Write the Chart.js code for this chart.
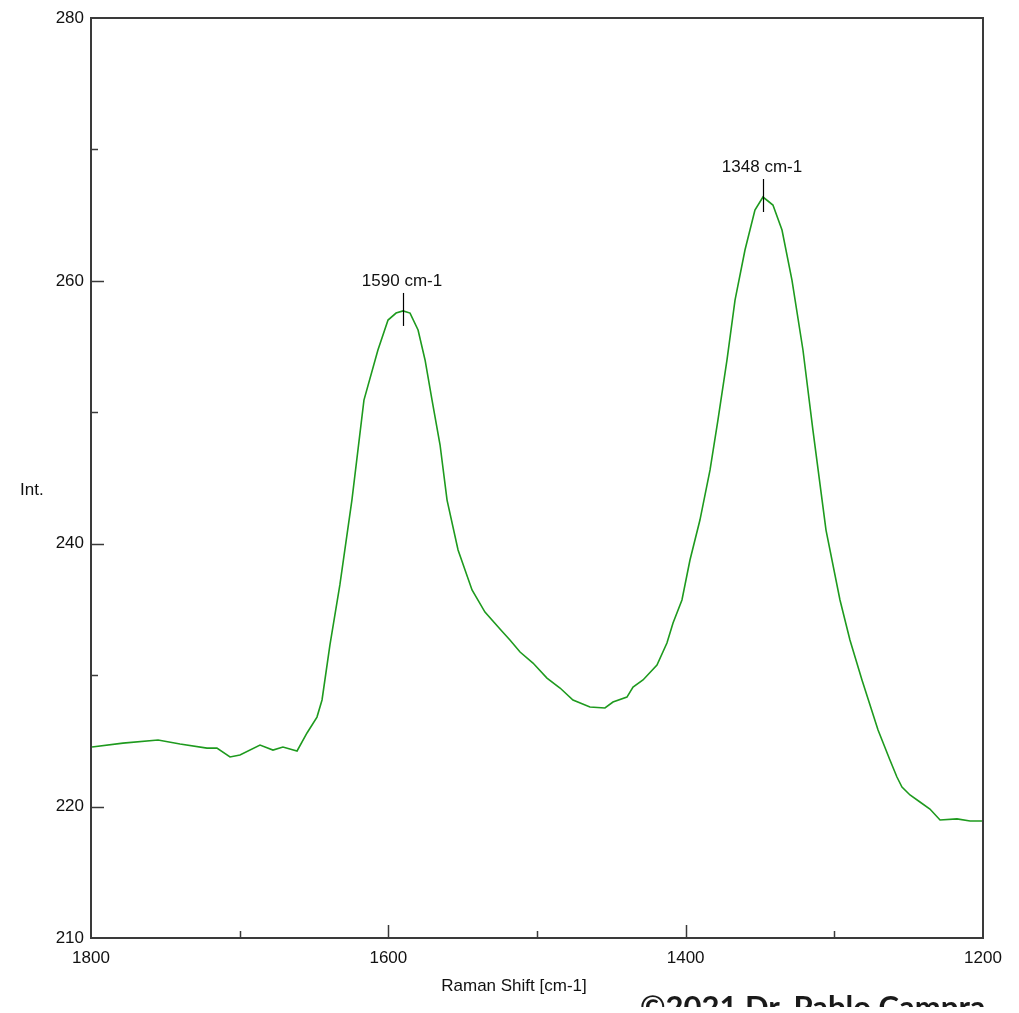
<!DOCTYPE html>
<html lang="en">
<head>
    <meta charset="UTF-8">
    <title>Raman Spectrum</title>
    <script src="https://cdn.jsdelivr.net/npm/chart.js"></script>
    <style>
        body { margin: 0; background: #fff; }
        #wrap { position: relative; width: 1019px; height: 1013px; }
        #copy {
            position: absolute; left: 640px; top: 991px; height: 16px; overflow: hidden;
            font: bold 31px Lato, "Open Sans", sans-serif; line-height: 31px; color: #1a1a1a;
            white-space: nowrap;
        }
    </style>
</head>
<body>
<div id="wrap">
    <canvas id="ramanChart" width="1019" height="1013"></canvas>
    <div id="copy">©2021 Dr. Pablo Campra</div>
</div>
<script>
    // spectrum (Raman shift in cm-1, intensity)
    const shiftValues = [
        1799.3, 1778.5, 1754.9, 1740.1, 1722.0, 1715.3, 1706.5, 1699.8, 1686.3, 1677.6,
        1670.9, 1661.4, 1654.7, 1648.0, 1644.6, 1639.3, 1632.6, 1624.5, 1616.4, 1607.0,
        1600.2, 1594.8, 1590.1, 1585.4, 1580.0, 1575.3, 1570.6, 1565.2, 1560.5, 1553.1,
        1543.7, 1535.0, 1524.9, 1518.2, 1511.4, 1502.7, 1493.3, 1484.5, 1475.8, 1464.4,
        1454.3, 1448.9, 1439.5, 1435.4, 1428.7, 1419.3, 1412.6, 1408.5, 1402.5, 1397.1,
        1390.4, 1383.6, 1378.3, 1372.2, 1366.8, 1360.1, 1353.4, 1348.0, 1341.3, 1335.2,
        1328.5, 1321.1, 1314.4, 1305.6, 1296.2, 1289.5, 1281.4, 1270.6, 1262.6, 1257.9,
        1254.5, 1249.1, 1242.4, 1235.7, 1228.9, 1217.5, 1208.7, 1200.7
    ];
    const intensityValues = [
        224.53, 224.83, 225.06, 224.76, 224.45, 224.45, 223.77, 223.92, 224.68, 224.30,
        224.53, 224.23, 225.60, 226.81, 228.11, 232.29, 236.86, 243.32, 250.93, 254.74,
        257.02, 257.55, 257.71, 257.55, 256.26, 253.98, 250.93, 247.51, 243.32, 239.52,
        236.48, 234.80, 233.51, 232.67, 231.76, 230.92, 229.78, 229.02, 228.11, 227.57,
        227.50, 227.95, 228.33, 229.10, 229.63, 230.77, 232.44, 233.97, 235.72, 238.76,
        241.80, 245.61, 249.41, 253.98, 258.54, 262.35, 265.39, 266.38, 265.77, 263.87,
        260.06, 254.74, 248.65, 241.04, 235.72, 232.67, 229.63, 225.82, 223.54, 222.25,
        221.49, 220.88, 220.35, 219.81, 218.98, 219.06, 218.90, 218.90
    ];

    // peak markers
    const peakShifts = [1590, 1348];
    const peakIntensities = [257.71, 266.38];
    const peakLabels = ['1590 cm-1', '1348 cm-1'];

    // axis labels that are printed
    const xTickLabels = [1800, 1600, 1400, 1200];
    const yTickLabels = [210, 220, 240, 260, 280];

    const axisColor = '#3a3a3a';
    const fontFamily = '"Liberation Sans", Arial, sans-serif';

    // frame, inner ticks, peak markers and axis titles
    const framePlugin = {
        id: 'frame',
        afterDatasetsDraw(chart) {
            const { ctx, chartArea: a, scales } = chart;
            const xs = scales.x, ys = scales.y;
            ctx.save();
            ctx.strokeStyle = axisColor;
            ctx.lineWidth = 2;
            ctx.strokeRect(a.left, a.top, a.right - a.left, a.bottom - a.top);

            ctx.lineWidth = 1.5;
            xs.ticks.forEach(t => {
                if (t.value === xs.min || t.value === xs.max) return;
                const px = Math.round(xs.getPixelForValue(t.value)) + 0.5;
                const len = xTickLabels.includes(t.value) ? 13 : 7;
                ctx.beginPath();
                ctx.moveTo(px, a.bottom);
                ctx.lineTo(px, a.bottom - len);
                ctx.stroke();
            });
            ys.ticks.forEach(t => {
                if (t.value === ys.min || t.value === ys.max) return;
                const py = Math.round(ys.getPixelForValue(t.value)) + 0.5;
                const len = yTickLabels.includes(t.value) ? 13 : 7;
                ctx.beginPath();
                ctx.moveTo(a.left, py);
                ctx.lineTo(a.left + len, py);
                ctx.stroke();
            });

            // peak markers
            ctx.strokeStyle = '#000';
            ctx.lineWidth = 1.2;
            ctx.fillStyle = '#111';
            ctx.font = '17px ' + fontFamily;
            ctx.textAlign = 'center';
            ctx.textBaseline = 'middle';
            peakShifts.forEach((s, i) => {
                const px = Math.round(xs.getPixelForValue(s)) + 0.5;
                const py = ys.getPixelForValue(peakIntensities[i]);
                ctx.beginPath();
                ctx.moveTo(px, py - 18);
                ctx.lineTo(px, py + 15);
                ctx.stroke();
                ctx.fillText(peakLabels[i], px - 1.5, py - 30);
            });

            // axis titles
            ctx.textAlign = 'left';
            ctx.fillText('Int.', 20, 490);
            ctx.textAlign = 'center';
            ctx.fillText('Raman Shift [cm-1]', 514, 986);
            ctx.restore();
        }
    };

    const ctx = document.getElementById('ramanChart').getContext('2d');
    const chart = new Chart(ctx, {
        type: 'line',
        data: {
            datasets: [{
                label: 'Raman',
                data: shiftValues.map((s, i) => ({ x: s, y: intensityValues[i] })),
                borderColor: '#1e9a1e',
                borderWidth: 1.6,
                pointRadius: 0,
                tension: 0,
                fill: false
            }]
        },
        options: {
            responsive: false,
            animation: false,
            layout: { padding: { top: 18, right: 36, left: 0, bottom: 0 } },
            plugins: { legend: { display: false }, tooltip: { enabled: false } },
            scales: {
                x: {
                    type: 'linear',
                    reverse: true,
                    min: 1200,
                    max: 1800,
                    grid: { display: false, drawTicks: false },
                    border: { display: false },
                    ticks: {
                        stepSize: 100,
                        padding: 10,
                        maxRotation: 0,
                        autoSkip: false,
                        color: '#111',
                        font: { family: fontFamily, size: 17 },
                        callback: v => xTickLabels.includes(v) ? String(v) : ''
                    },
                    afterFit: s => { s.height = 75; }
                },
                y: {
                    min: 210,
                    max: 280,
                    grid: { display: false, drawTicks: false },
                    border: { display: false },
                    ticks: {
                        stepSize: 10,
                        padding: 7,
                        autoSkip: false,
                        color: '#111',
                        font: { family: fontFamily, size: 17 },
                        callback: v => yTickLabels.includes(v) ? String(v) : ''
                    },
                    afterFit: s => { s.width = 91; }
                }
            }
        },
        plugins: [framePlugin]
    });
</script>
</body>
</html>
